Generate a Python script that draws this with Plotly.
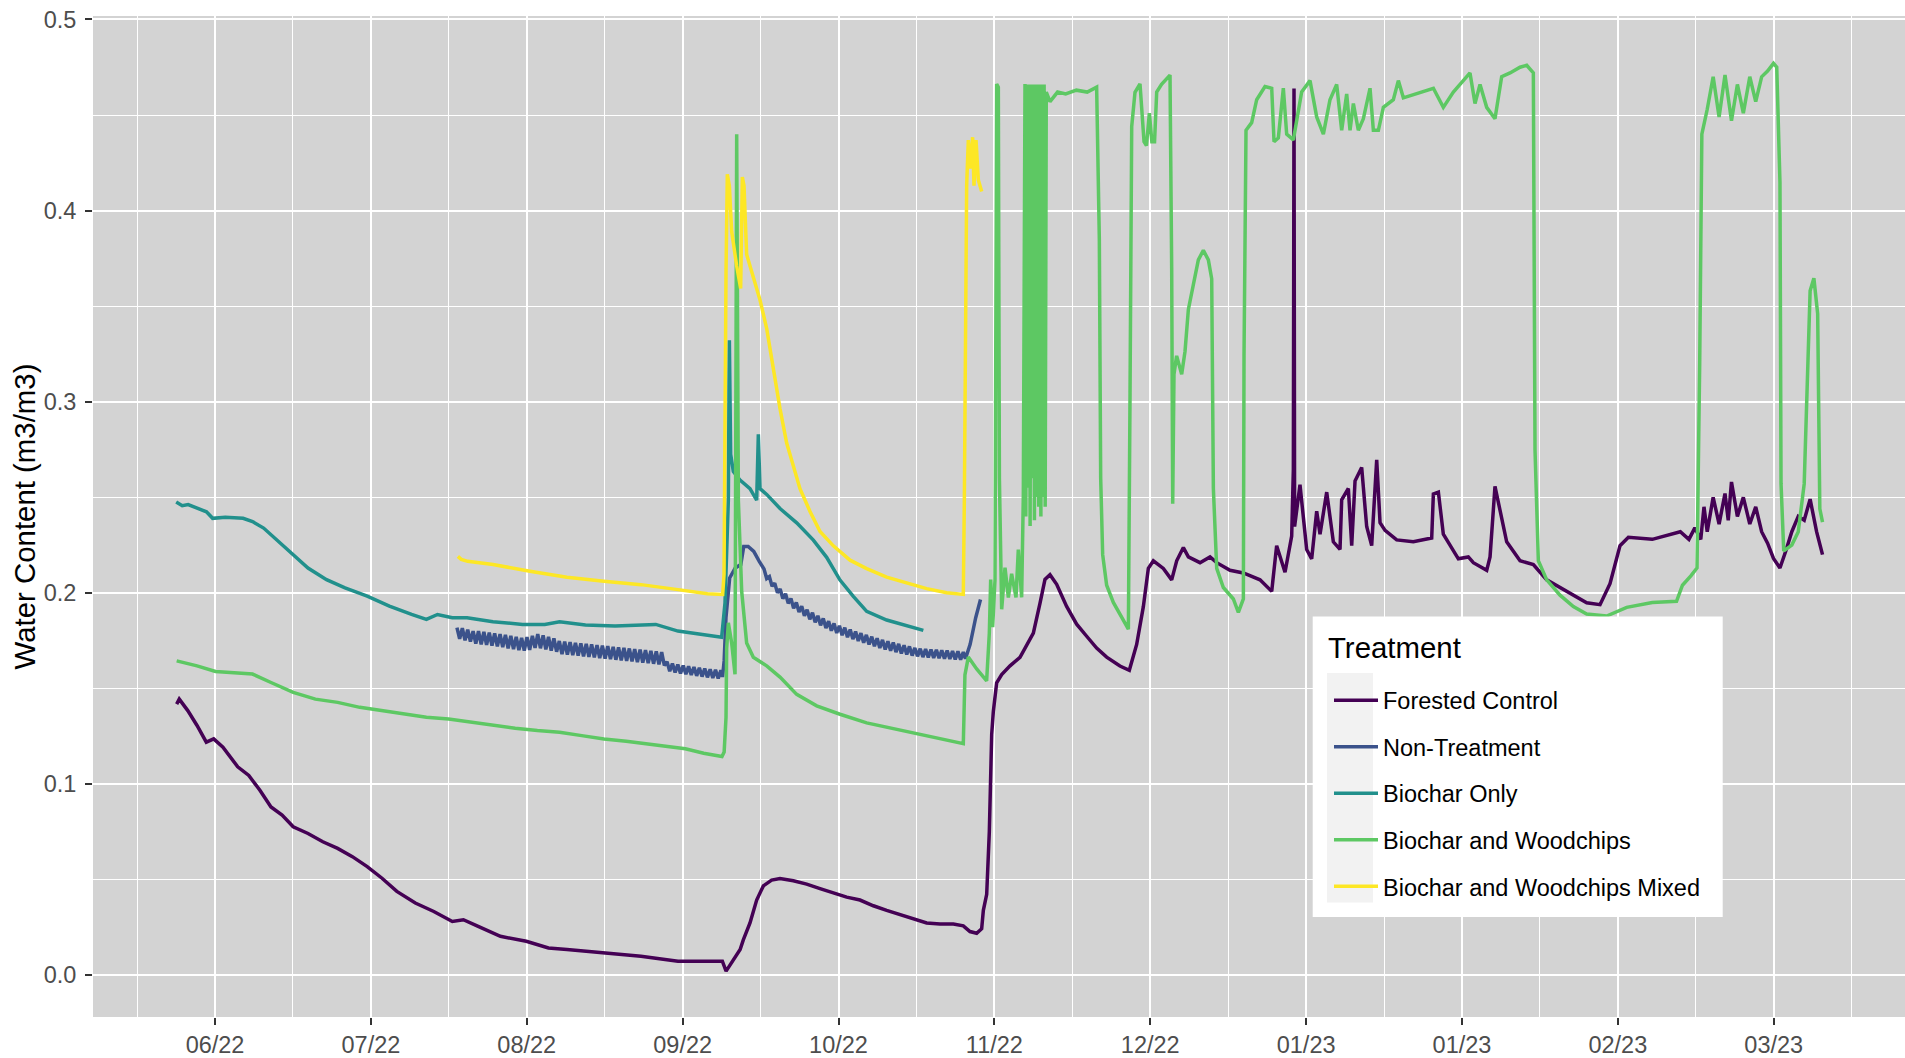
import pandas as pd
import plotly.graph_objects as go

# ---------------- data (day offsets from 2022-06-01, volumetric water content) ----------------
ORIGIN = "2022-06-01"

fc_days = [3.97, 4.45, 6.03, 7.75, 9.47, 10.84, 12.56, 15.3, 17.36, 19.42, 21.48, 23.54, 25.6, 28.35,
           31.1, 33.85, 36.59, 39.34, 42.09, 44.84, 48.27, 51.7, 55.14, 57.2, 59.94, 64.07, 68.87,
           72.99, 76.43, 83.3, 90.16, 97.03, 103.9, 105.27, 105.96, 106.99, 108.57, 109.16, 110.4,
           111.64, 112.88, 114.42, 115.97, 118.45, 120.92, 123.4, 125.87, 128.35, 130.82, 133.3,
           135.77, 138.25, 140.72, 143.2, 145.67, 148.15, 150.0, 151.24, 152.48, 153.41, 153.72,
           154.34, 154.83, 155.27, 155.57, 156.19, 157.12, 158.67, 160.52, 161.76, 163.0, 164.23,
           165.16, 166.09, 167.33, 169.18, 171.04, 172.9, 174.75, 176.61, 179.08, 180.82, 181.56,
           182.18, 183.42, 184.35, 185.28, 187.13, 188.68, 189.61, 190.85, 191.78, 193.94, 195.8,
           197.04, 199.51, 201.99, 205.08, 207.25, 208.17, 209.72, 210.96, 211.27, 211.39, 211.5,
           212.5, 213.74, 214.67, 215.6, 216.22, 217.46, 218.69, 219.93, 220.24, 221.48, 222.1,
           222.72, 223.95, 224.88, 225.81, 226.74, 227.36, 228.29, 230.45, 233.54, 235.4, 236.95,
           237.26, 238.19, 239.11, 240.35, 241.9, 243.75, 244.68, 247.16, 247.78, 248.7, 249.63,
           250.87, 253.35, 255.82, 258.3, 262.0, 265.72, 268.2, 270.05, 271.91, 273.46, 277.9,
           283.1, 284.7, 285.8, 286.9, 287.5, 288.1, 289.2, 290.3, 291.4, 292.0, 292.6, 293.7,
           294.8, 296.0, 297.1, 298.2, 299.3, 300.4, 301.6, 302.7, 303.8, 305.0, 306.1, 307.2,
           308.4, 309.5]
fc_vals = [0.1418, 0.1444, 0.1384, 0.1306, 0.1219, 0.1236, 0.1193, 0.109, 0.1045, 0.0967, 0.088,
           0.0837, 0.0776, 0.0741, 0.0698, 0.0663, 0.062, 0.0568, 0.0507, 0.0438, 0.0377, 0.0333,
           0.0281, 0.029, 0.0255, 0.0203, 0.0177, 0.0142, 0.0134, 0.0116, 0.0099, 0.0073, 0.0073,
           0.0073, 0.0021, 0.0064, 0.0134, 0.0184, 0.0273, 0.0393, 0.0467, 0.0497, 0.0506, 0.0494,
           0.0476, 0.0453, 0.0429, 0.0408, 0.0393, 0.0363, 0.0339, 0.0318, 0.0297, 0.0273, 0.0267,
           0.0267, 0.0258, 0.0228, 0.0219, 0.0243, 0.0339, 0.0423, 0.0751, 0.126, 0.1379, 0.1529,
           0.1573, 0.1618, 0.1663, 0.1726, 0.1789, 0.1945, 0.207, 0.2095, 0.2045, 0.1929, 0.1836,
           0.1773, 0.1711, 0.1664, 0.1617, 0.1595, 0.1664, 0.173, 0.1928, 0.2128, 0.2168, 0.2128,
           0.2068, 0.2168, 0.2237, 0.2188, 0.2158, 0.2188, 0.2158, 0.2118, 0.2104, 0.2068, 0.2008,
           0.2247, 0.2108, 0.2297, 0.2646, 0.4639, 0.2347, 0.2566, 0.2227, 0.2178, 0.2427, 0.2307,
           0.2527, 0.2267, 0.2227, 0.2487, 0.2546, 0.2247, 0.2586, 0.2656, 0.2347, 0.2247, 0.2696,
           0.2367, 0.2327, 0.2277, 0.2267, 0.2277, 0.2287, 0.2517, 0.2527, 0.2307, 0.2247, 0.2178,
           0.2188, 0.2158, 0.2118, 0.2188, 0.2557, 0.2427, 0.2267, 0.2168, 0.2148, 0.2068, 0.2008,
           0.1948, 0.1938, 0.2048, 0.2247, 0.2291, 0.228, 0.232, 0.228, 0.234, 0.228, 0.245, 0.232,
           0.25, 0.236, 0.252, 0.238, 0.258, 0.24, 0.25, 0.236, 0.245, 0.232, 0.226, 0.218, 0.213,
           0.222, 0.232, 0.24, 0.238, 0.249, 0.232, 0.22]

nt_days = [56.0, 56.5, 57.0, 57.5, 58.0, 58.5, 59.0, 59.5, 60.0, 60.5, 61.0, 61.5, 62.0, 62.5, 63.0,
           63.5, 64.0, 64.5, 65.0, 65.5, 66.0, 66.5, 67.0, 67.5, 68.0, 68.5, 69.0, 69.5, 70.0, 70.5,
           71.0, 71.5, 72.0, 72.5, 73.0, 73.5, 74.0, 74.5, 75.0, 75.5, 76.0, 76.5, 77.0, 77.5, 78.0,
           78.5, 79.0, 79.5, 80.0, 80.5, 81.0, 81.5, 82.0, 82.5, 83.0, 83.5, 84.0, 84.5, 85.0, 85.5,
           86.0, 86.5, 87.0, 87.5, 88.0, 88.5, 89.0, 89.5, 90.0, 90.5, 91.0, 91.5, 92.0, 92.5, 93.0,
           93.5, 94.0, 94.5, 95.0, 95.5, 96.0, 96.5, 97.0, 97.5, 98.0, 98.5, 99.0, 99.5, 100.0,
           100.5, 101.0, 101.5, 102.0, 102.5, 103.0, 103.5, 104.0, 104.5, 105.0, 105.3, 105.6,
           105.94, 106.63, 107.66, 108.69, 109.24, 110.06, 111.1, 112.12, 113.0, 113.5, 114.0,
           114.5, 115.0, 115.5, 116.0, 116.5, 117.0, 117.5, 118.0, 118.5, 119.0, 119.5, 120.0,
           120.5, 121.0, 121.5, 122.0, 122.5, 123.0, 123.5, 124.0, 124.5, 125.0, 125.5, 126.0,
           126.5, 127.0, 127.5, 128.0, 128.5, 129.0, 129.5, 130.0, 130.5, 131.0, 131.5, 132.0,
           132.5, 133.0, 133.5, 134.0, 134.5, 135.0, 135.5, 136.0, 136.5, 137.0, 137.5, 138.0,
           138.5, 139.0, 139.5, 140.0, 140.5, 141.0, 141.5, 142.0, 142.5, 143.0, 143.5, 144.0,
           144.5, 145.0, 145.5, 146.0, 146.5, 147.0, 147.5, 148.0, 148.5, 149.0, 149.5, 150.0,
           150.4, 151.27, 152.3, 153.19]
nt_vals = [0.1818, 0.1760, 0.1815, 0.1752, 0.1808, 0.1745, 0.1800, 0.1735, 0.1800, 0.1730, 0.1796,
           0.1728, 0.1792, 0.1724, 0.1788, 0.1720, 0.1784, 0.1716, 0.1780, 0.1710, 0.1775, 0.1705,
           0.1770, 0.1700, 0.1765, 0.1698, 0.1768, 0.1702, 0.1775, 0.1712, 0.1785, 0.1710, 0.1778,
           0.1704, 0.1770, 0.1698, 0.1762, 0.1692, 0.1748, 0.1680, 0.1745, 0.1677, 0.1742, 0.1674,
           0.1739, 0.1671, 0.1736, 0.1668, 0.1733, 0.1665, 0.1730, 0.1662, 0.1727, 0.1659, 0.1724,
           0.1656, 0.1721, 0.1653, 0.1718, 0.1650, 0.1715, 0.1647, 0.1712, 0.1644, 0.1709, 0.1641,
           0.1706, 0.1638, 0.1703, 0.1635, 0.1700, 0.1632, 0.1697, 0.1629, 0.1694, 0.1626, 0.1690,
           0.1620, 0.1640, 0.1590, 0.1630, 0.1584, 0.1625, 0.1578, 0.1620, 0.1574, 0.1616, 0.1570,
           0.1612, 0.1566, 0.1608, 0.1562, 0.1604, 0.1558, 0.1600, 0.1555, 0.1597, 0.1552, 0.1595,
           0.1560, 0.1644, 0.187, 0.2078, 0.213, 0.2148, 0.2243, 0.2243, 0.2217, 0.2165, 0.2125,
           0.2075, 0.2085, 0.2035, 0.2050, 0.2000, 0.2020, 0.1970, 0.1995, 0.1945, 0.1970, 0.1920,
           0.1950, 0.1900, 0.1930, 0.1880, 0.1912, 0.1862, 0.1896, 0.1846, 0.1880, 0.1830, 0.1866,
           0.1816, 0.1852, 0.1802, 0.1840, 0.1790, 0.1828, 0.1778, 0.1818, 0.1768, 0.1808, 0.1758,
           0.1798, 0.1748, 0.1789, 0.1739, 0.1780, 0.1730, 0.1771, 0.1721, 0.1762, 0.1712, 0.1754,
           0.1704, 0.1747, 0.1697, 0.1740, 0.1690, 0.1733, 0.1683, 0.1726, 0.1678, 0.1720, 0.1672,
           0.1712, 0.1668, 0.1708, 0.1664, 0.1706, 0.1662, 0.1704, 0.1660, 0.1702, 0.1658, 0.1700,
           0.1656, 0.1698, 0.1654, 0.1696, 0.1652, 0.1694, 0.1650, 0.1690, 0.1655, 0.1731, 0.187,
           0.1965]

bo_days = [3.88, 5.0, 6.1, 7.5, 9.5, 10.65, 13.0, 16.3, 18.05, 20.11, 22.86, 25.6, 28.35, 31.79,
           35.22, 39.34, 43.46, 47.58, 50.33, 52.39, 55.14, 57.88, 62.69, 68.18, 72.3, 75.05, 79.86,
           85.35, 92.91, 97.03, 101.15, 105.14, 105.76, 106.38, 106.57, 106.81, 107.31, 108.55, 110.4,
           111.64, 111.95, 112.26, 113.5, 115.97, 119.07, 122.16, 124.63, 127.11, 129.58, 132.06,
           135.77, 139.48, 142.58]
bo_vals = [0.2475, 0.2456, 0.2462, 0.2445, 0.2424, 0.239, 0.2395, 0.239, 0.2373, 0.2339, 0.2269,
           0.22, 0.213, 0.2069, 0.2026, 0.1983, 0.1931, 0.1887, 0.1861, 0.1887, 0.187, 0.187, 0.1849,
           0.1835, 0.1835, 0.1849, 0.1832, 0.1826, 0.1835, 0.18, 0.1783, 0.1768, 0.1947, 0.2485,
           0.3322, 0.2725, 0.2635, 0.259, 0.2545, 0.2485, 0.2829, 0.2545, 0.2515, 0.2441, 0.2366,
           0.2276, 0.2186, 0.2067, 0.1982, 0.1903, 0.1858, 0.1828, 0.1804]

bw_days = [3.97, 7.75, 11.18, 14.6, 18.05, 21.48, 25.6, 29.72, 33.85, 37.97, 42.09, 46.2, 50.33,
           54.45, 58.57, 62.69, 66.81, 70.93, 75.05, 79.17, 83.3, 87.42, 91.54, 95.66, 98.4, 101.8,
           105.2, 105.6, 105.95, 106.07, 106.38, 107.0, 107.62, 107.93, 108.24, 108.86, 109.78,
           111.02, 113.5, 115.97, 119.07, 122.78, 127.11, 132.06, 137.01, 141.34, 145.67, 150.0,
           150.3, 150.93, 152.48, 154.33, 154.83, 155.08, 155.45, 155.88, 156.19, 156.5, 156.7,
           157.12, 157.74, 158.36, 158.97, 159.78, 160.21, 160.83, 161.14, 161.45, 161.6, 161.8,
           162.0, 162.2, 162.4, 162.6, 162.8, 163.0, 163.2, 163.4, 163.6, 163.8, 164.0, 164.2,
           164.4, 164.6, 164.8, 165.0, 165.2, 165.4, 166.09, 167.5, 169.0, 171.0, 173.0, 174.75,
           175.25, 175.5, 175.87, 176.61, 177.85, 179.4, 180.64, 180.95, 181.26, 181.87, 182.8,
           183.55, 184.0, 184.54, 185.0, 185.5, 185.9, 186.8, 188.37, 188.68, 188.87, 189.11,
           189.6, 190.54, 191.16, 191.78, 192.7, 193.63, 194.56, 195.49, 196.11, 196.42, 197.04,
           198.27, 200.13, 201.06, 201.99, 202.11, 202.48, 203.53, 204.46, 206.0, 207.25, 207.68,
           208.48, 209.41, 210.03, 211.27, 212.81, 214.36, 215.6, 216.84, 218.07, 219.31, 220.24,
           221.17, 221.79, 222.41, 223.33, 224.26, 225.5, 226.12, 227.05, 227.98, 229.83, 230.76,
           231.69, 234.78, 237.26, 239.11, 240.97, 242.21, 244.06, 244.99, 245.92, 247.16, 248.7,
           249.94, 251.49, 253.35, 254.59, 255.82, 255.94, 256.13, 256.75, 258.3, 260.77, 263.25,
           265.72, 269.43, 273.15, 277.9, 282.4, 283.5, 285.1, 286.2, 286.7, 287.1, 288.1, 289.2,
           290.3, 291.4, 292.6, 293.7, 294.8, 296.0, 297.1, 298.2, 299.3, 300.4, 301.0, 301.6,
           301.8, 302.3, 303.8, 305.0, 306.1, 307.2, 307.9, 308.6, 309.0, 309.5]
bw_vals = [0.1644, 0.1618, 0.1589, 0.1583, 0.1575, 0.1531, 0.1479, 0.1444, 0.1427, 0.1401, 0.1384,
           0.1366, 0.1349, 0.134, 0.1323, 0.1306, 0.1292, 0.128, 0.1271, 0.1253, 0.1236, 0.1224,
           0.121, 0.1196, 0.1184, 0.1161, 0.1144, 0.1167, 0.1349, 0.171, 0.1843, 0.1738, 0.1574,
           0.4399, 0.2485, 0.2007, 0.1738, 0.1663, 0.1618, 0.1559, 0.1469, 0.1409, 0.1365, 0.132,
           0.129, 0.126, 0.1233, 0.1211, 0.157, 0.1664, 0.1602, 0.154, 0.179, 0.207, 0.182, 0.207,
           0.4662, 0.4646, 0.26, 0.1914, 0.2132, 0.1976, 0.21, 0.1976, 0.2226, 0.1976, 0.2507,
           0.4662, 0.24, 0.466, 0.255, 0.466, 0.235, 0.466, 0.26, 0.466, 0.238, 0.466, 0.25, 0.466,
           0.245, 0.466, 0.24, 0.466, 0.25, 0.466, 0.245, 0.462, 0.457, 0.462, 0.461, 0.463, 0.462,
           0.4646, 0.385, 0.26, 0.22, 0.204, 0.195, 0.187, 0.181, 0.3045, 0.444, 0.4619, 0.4663,
           0.436, 0.434, 0.451, 0.436, 0.436, 0.462, 0.466, 0.4709, 0.37, 0.2466, 0.3144, 0.324,
           0.3144, 0.3264, 0.3483, 0.3603, 0.3742, 0.3792, 0.3742, 0.3643, 0.2546, 0.2128, 0.2028,
           0.1968, 0.1898, 0.1968, 0.324, 0.442, 0.446, 0.458, 0.4649, 0.464, 0.436, 0.438, 0.464,
           0.44, 0.437, 0.462, 0.468, 0.449, 0.44, 0.458, 0.466, 0.442, 0.461, 0.442, 0.456, 0.442,
           0.448, 0.464, 0.442, 0.442, 0.454, 0.458, 0.468, 0.459, 0.462, 0.464, 0.454, 0.462, 0.466,
           0.472, 0.456, 0.466, 0.454, 0.448, 0.47, 0.472, 0.475, 0.476, 0.472, 0.364, 0.2746,
           0.2168, 0.2068, 0.1988, 0.1928, 0.1889, 0.1879, 0.1924, 0.195, 0.1956, 0.204, 0.209,
           0.213, 0.32, 0.44, 0.453, 0.47, 0.449, 0.471, 0.447, 0.466, 0.451, 0.47, 0.457, 0.47,
           0.473, 0.477, 0.475, 0.415, 0.257, 0.222, 0.225, 0.232, 0.257, 0.358, 0.3646, 0.346,
           0.244, 0.237]

bwm_days = [56.17, 56.8, 58.0, 62.69, 69.56, 76.43, 83.3, 90.16, 97.03, 102.5, 105.33, 105.58,
            105.95, 106.19, 106.57, 107.0, 107.93, 108.67, 108.98, 109.29, 109.78, 111.02, 112.26,
            113.5, 114.73, 115.97, 117.21, 118.45, 119.68, 121.54, 123.4, 125.87, 128.97, 132.06,
            135.77, 139.48, 143.2, 146.91, 150.0, 150.19, 150.44, 150.62, 150.93, 151.36, 151.73,
            151.98, 152.36, 152.79, 153.41]
bwm_vals = [0.2191, 0.2175, 0.2165, 0.2148, 0.2113, 0.2082, 0.2061, 0.2043, 0.2017, 0.1995, 0.1992,
            0.2097, 0.368, 0.419, 0.413, 0.389, 0.371, 0.3592, 0.4175, 0.413, 0.377, 0.3651, 0.3532,
            0.3382, 0.3173, 0.2964, 0.2784, 0.2665, 0.2545, 0.2426, 0.2321, 0.2246, 0.2171, 0.2127,
            0.2082, 0.2052, 0.2022, 0.2001, 0.1992, 0.2485, 0.3382, 0.413, 0.4369, 0.4219, 0.4384,
            0.413, 0.4369, 0.416, 0.41]

series_names = ["Forested Control", "Non-Treatment", "Biochar Only", "Biochar and Woodchips",
                "Biochar and Woodchips Mixed"]
series_colors = ["#440154", "#3B528B", "#21908C", "#5DC863", "#FDE725"]
series_days = [fc_days, nt_days, bo_days, bw_days, bwm_days]
series_vals = [fc_vals, nt_vals, bo_vals, bw_vals, bwm_vals]

tick_dates = ["2022-06-12 02:13", "2022-07-11 00:40", "2022-08-08 23:06", "2022-09-06 21:33",
              "2022-10-05 20:00", "2022-11-03 18:26", "2022-12-02 16:53", "2022-12-31 15:20",
              "2023-01-29 13:46", "2023-02-27 12:13", "2023-03-28 10:40"]
tick_labels = ["06/22", "07/22", "08/22", "09/22", "10/22", "11/22", "12/22", "01/23", "01/23",
               "02/23", "03/23"]
y_ticks = [0.0, 0.1, 0.2, 0.3, 0.4, 0.5]

# ---------------- figure ----------------
FONT = "Liberation Sans, Arial, sans-serif"
origin = pd.Timestamp(ORIGIN)

fig = go.Figure()
for name, col, d, v in zip(series_names, series_colors, series_days, series_vals):
    fig.add_trace(go.Scatter(
        x=origin + pd.to_timedelta(d, unit="D"), y=v, mode="lines", name=name,
        legendgroup=name, line=dict(color=col, width=3.5), hoverinfo="skip"))

tk = pd.to_datetime(tick_dates)
step = tk[1] - tk[0]
minor_x = [tk[0] - step / 2] + [tk[i] + (tk[i + 1] - tk[i]) / 2 for i in range(len(tk) - 1)] + [tk[-1] + step / 2]

# pixel geometry of the panel
L, R, T, B = 93, 1905, 16, 1021
W, H = R - L, B - T
px = lambda x: (x - L) / W
py = lambda y: (B - y) / H

fig.update_layout(
    width=1905, height=1058,
    margin=dict(l=L, r=1905 - R, t=T, b=1058 - B),
    paper_bgcolor="white", plot_bgcolor="#D3D3D3",
    font=dict(family=FONT, color="#000000"),
    showlegend=True,
    legend=dict(
        x=px(1329), y=py(681), xanchor="left", yanchor="top",
        bgcolor="rgba(0,0,0,0)", borderwidth=0,
        font=dict(size=23.5, color="#000000", family=FONT),
        tracegroupgap=13, itemwidth=44, traceorder="grouped",
    ),
    xaxis=dict(
        type="date",
        range=["2022-05-20 10:30", "2023-04-21 19:30"],
        tickmode="array", tickvals=tick_dates, ticktext=tick_labels,
        ticks="outside", ticklen=7, tickwidth=1.5, tickcolor="#333333",
        tickfont=dict(size=23.5, color="#4D4D4D", family=FONT),
        showgrid=True, gridcolor="white", gridwidth=2,
        minor=dict(tickmode="array", tickvals=[str(t) for t in minor_x], showgrid=True,
                   gridcolor="white", gridwidth=1, ticks=""),
        zeroline=False, showline=False,
    ),
    yaxis=dict(
        range=[-0.0219, 0.5018],
        tickmode="array", tickvals=y_ticks, ticktext=[f"{t:.1f}" for t in y_ticks],
        ticks="outside", ticklen=7, tickwidth=1.5, tickcolor="#333333",
        tickfont=dict(size=23.5, color="#4D4D4D", family=FONT),
        showgrid=True, gridcolor="white", gridwidth=2,
        minor=dict(tickmode="array", tickvals=[0.05, 0.15, 0.25, 0.35, 0.45], showgrid=True,
                   gridcolor="white", gridwidth=1, ticks=""),
        zeroline=False, showline=False, ticklabelstandoff=4,
    ),
    shapes=[
        dict(type="rect", xref="paper", yref="paper", x0=px(1312.7), x1=px(1722.7),
             y0=py(920.7), y1=py(619), fillcolor="white", line=dict(width=0), layer="above"),
        dict(type="rect", xref="paper", yref="paper", x0=px(1327), x1=px(1373),
             y0=py(906), y1=py(675.7), fillcolor="#F2F2F2", line=dict(width=0), layer="above"),
    ],
    annotations=[
        dict(text="Water Content (m3/m3)", xref="paper", yref="paper", x=px(24), y=0.5,
             xanchor="center", yanchor="middle", textangle=-90, showarrow=False,
             font=dict(size=29.4, color="#000000", family=FONT)),
        dict(text="Treatment", xref="paper", yref="paper", x=px(1326), y=py(650),
             xanchor="left", yanchor="middle", showarrow=False,
             font=dict(size=29.4, color="#000000", family=FONT)),
    ],
)

fig.write_html("out.html")
